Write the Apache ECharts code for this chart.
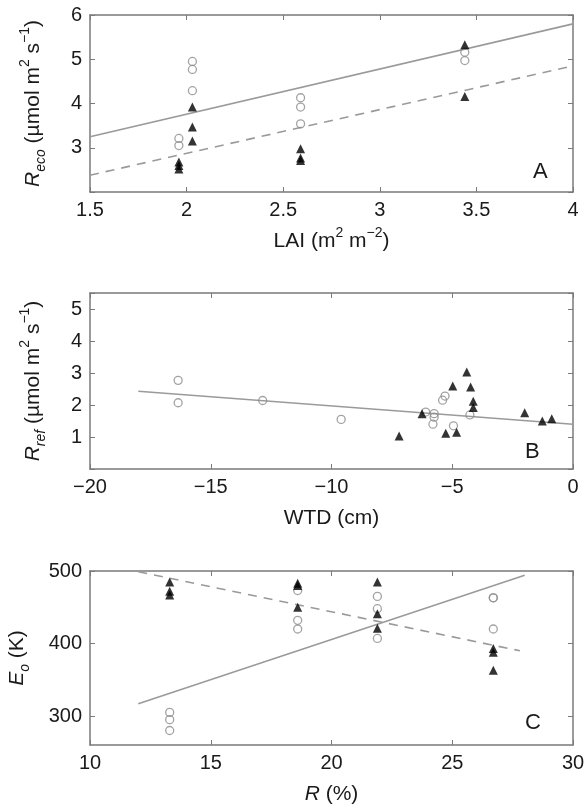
<!DOCTYPE html>
<html>
<head>
<meta charset="utf-8">
<script src="https://cdn.jsdelivr.net/npm/echarts@6/dist/echarts.min.js"></script>
<style>
html, body { margin: 0; background: #fff; }
#main { width: 587px; height: 808px; }
</style>
</head>
<body>
<div id="main"></div>
<script>
// panel A: Reco vs LAI
var laiOpen = [1.96, 1.96, 2.03, 2.03, 2.03, 2.59, 2.59, 2.59, 3.44, 3.44];
var recoOpen = [3.21, 3.05, 4.95, 4.77, 4.29, 4.13, 3.92, 3.54, 5.16, 4.97];
var laiFill = [1.96, 1.96, 1.96, 2.03, 2.03, 2.03, 2.59, 2.59, 2.59, 3.44, 3.44];
var recoFill = [2.68, 2.6, 2.52, 3.92, 3.47, 3.15, 2.98, 2.77, 2.71, 5.33, 4.16];
var fitA_x = [1.5, 4];
var fitA_solid = [3.25, 5.8];
var fitA_dash = [2.38, 4.85];

// panel B: Rref vs WTD
var wtdOpen = [-16.35, -16.35, -12.85, -9.6, -6.1, -5.75, -5.75, -5.8, -5.4, -5.3, -4.95, -4.27];
var rrefOpen = [2.77, 2.07, 2.14, 1.55, 1.78, 1.73, 1.62, 1.4, 2.15, 2.28, 1.35, 1.69];
var wtdFill = [-7.2, -6.25, -5.27, -4.82, -4.98, -4.4, -4.24, -4.13, -4.13, -2.0, -1.27, -0.88];
var rrefFill = [1.03, 1.73, 1.12, 1.15, 2.59, 3.03, 2.56, 2.12, 1.92, 1.76, 1.5, 1.57];
var fitB_x = [-18, 0];
var fitB_y = [2.43, 1.4];

// panel C: Eo vs R
var rOpen = [13.3, 13.3, 13.3, 18.6, 18.6, 18.6, 21.9, 21.9, 21.9, 26.7, 26.7, 26.7];
var eoOpen = [305, 295, 280, 473, 432, 420, 465, 448, 407, 463, 463, 420];
var rFill = [13.3, 13.3, 13.3, 18.6, 18.6, 18.6, 21.9, 21.9, 21.9, 26.7, 26.7, 26.7];
var eoFill = [485, 472, 467, 483, 480, 450, 485, 441, 421, 393, 388, 363];
var fitC_solid_x = [12, 28];
var fitC_solid_y = [317, 494];
var fitC_dash_x = [12, 27.8];
var fitC_dash_y = [499, 390];

var chart = echarts.init(document.getElementById('main'));

function zip(xs, ys) {
  return xs.map(function (x, i) { return [x, ys[i]]; });
}

var FONT = 'Liberation Sans, Arial, Helvetica, sans-serif';
var TXT = '#1a1a1a';
var AX = '#7a7a7a';
var GREY = '#9a9a9a';

var rich = {
  n: { fontSize: 21, fontFamily: FONT, color: TXT, lineHeight: 30 },
  i: { fontSize: 21, fontFamily: FONT, color: TXT, fontStyle: 'italic', lineHeight: 30 },
  sub: { fontSize: 14, fontFamily: FONT, color: TXT, fontStyle: 'italic', verticalAlign: 'bottom', lineHeight: 30 },
  sup: { fontSize: 14, fontFamily: FONT, color: TXT, verticalAlign: 'top', lineHeight: 30 }
};

var grids = [
  { left: 90, top: 15, width: 483, height: 177 },
  { left: 90, top: 293, width: 483, height: 176 },
  { left: 90, top: 571, width: 483, height: 174 }
];

var axLine = { show: true, onZero: false, lineStyle: { color: AX, width: 1.5 } };
var axTick = { inside: true, length: 5, lineStyle: { color: AX } };

function xAxis(gi, min, max, step, name, gap, fmt) {
  return {
    type: 'value', gridIndex: gi, min: min, max: max, interval: step,
    name: name, nameLocation: 'middle', nameGap: gap,
    nameTextStyle: { rich: rich },
    axisLine: axLine, axisTick: axTick,
    axisLabel: { fontSize: 20, fontFamily: FONT, color: TXT, margin: 8, formatter: fmt },
    splitLine: { show: false }
  };
}
function xMirror(gi, min, max, step) {
  return {
    type: 'value', gridIndex: gi, min: min, max: max, interval: step, position: 'top',
    axisLine: axLine, axisTick: axTick,
    axisLabel: { show: false }, splitLine: { show: false }
  };
}
function yAxis(gi, min, max, step, name, gap, labelFmt, custom) {
  var ax = {
    type: 'value', gridIndex: gi, min: min, max: max, interval: step,
    name: name, nameLocation: 'middle', nameGap: gap,
    nameTextStyle: { rich: rich },
    axisLine: axLine,
    axisTick: { inside: true, length: 5, lineStyle: { color: AX } },
    axisLabel: { fontSize: 20, fontFamily: FONT, color: TXT, margin: 8, formatter: labelFmt },
    splitLine: { show: false }
  };
  if (custom) {
    ax.axisTick.customValues = custom;
    ax.axisLabel.customValues = custom;
  }
  return ax;
}
function yMirror(gi, min, max, step, custom) {
  var ax = {
    type: 'value', gridIndex: gi, min: min, max: max, interval: step, position: 'right',
    axisLine: axLine,
    axisTick: { inside: true, length: 5, lineStyle: { color: AX } },
    axisLabel: { show: false }, splitLine: { show: false }
  };
  if (custom) ax.axisTick.customValues = custom;
  return ax;
}

function openPts(xi, yi, data) {
  return {
    type: 'scatter', xAxisIndex: xi, yAxisIndex: yi, data: data,
    symbol: 'circle', symbolSize: 8, z: 4,
    itemStyle: { color: 'rgba(255,255,255,0)', borderColor: '#8c8c8c', borderWidth: 1.3 }
  };
}
function fillPts(xi, yi, data) {
  return {
    type: 'scatter', xAxisIndex: xi, yAxisIndex: yi, data: data,
    symbol: 'triangle', symbolSize: 9, z: 5,
    itemStyle: { color: '#000' }
  };
}
function fit(xi, yi, data, dashed) {
  return {
    type: 'line', xAxisIndex: xi, yAxisIndex: yi, data: data,
    showSymbol: false, silent: true, z: 2,
    lineStyle: { color: GREY, width: 1.6, type: dashed ? [9, 7] : 'solid' }
  };
}

var hideFirst = function (v) { return v === 2 ? '' : v; };
var hideB = function (v) { return (v === 0 || v > 5) ? '' : v; };
var minusFmt = function (v) { return v < 0 ? '\u2212' + Math.abs(v) : v; };

var option = {
  backgroundColor: '#fff',
  animation: false,
  grid: grids.map(function (g) {
    return Object.assign({ containLabel: false, outerBoundsMode: 'none' }, g);
  }),
  xAxis: [
    xAxis(0, 1.5, 4, 0.5, '{n|LAI (m}{sup|2}{n| m}{sup|\u22122}{n|)}', 34),
    xAxis(1, -20, 0, 5, '{n|WTD (cm)}', 34, minusFmt),
    xAxis(2, 10, 30, 5, '{i|R}{n| (%)}', 34),
    xMirror(0, 1.5, 4, 0.5),
    xMirror(1, -20, 0, 5),
    xMirror(2, 10, 30, 5)
  ],
  yAxis: [
    yAxis(0, 2, 6, 1, '{i|R}{sub|eco}{n| (\u00b5mol m}{sup|2}{n| s}{sup|\u22121}{n|)}', 42, hideFirst),
    yAxis(1, 0, 5.5, 1, '{i|R}{sub|ref}{n| (\u00b5mol m}{sup|2}{n| s}{sup|\u22121}{n|)}', 42, hideB),
    yAxis(2, 260, 500, 20, '{i|E}{sub|o}{n| (K)}', 58, null, [300, 400, 500]),
    yMirror(0, 2, 6, 1),
    yMirror(1, 0, 5.5, 1),
    yMirror(2, 260, 500, 20, [300, 400, 500])
  ],
  graphic: [
    { type: 'text', left: 533, top: 161, style: { text: 'A', font: '22px ' + FONT, fill: TXT } },
    { type: 'text', left: 525, top: 441, style: { text: 'B', font: '22px ' + FONT, fill: TXT } },
    { type: 'text', left: 525, top: 712, style: { text: 'C', font: '22px ' + FONT, fill: TXT } }
  ],
  series: [
    fit(0, 0, zip(fitA_x, fitA_solid), false),
    fit(0, 0, zip(fitA_x, fitA_dash), true),
    openPts(0, 0, zip(laiOpen, recoOpen)),
    fillPts(0, 0, zip(laiFill, recoFill)),
    fit(1, 1, zip(fitB_x, fitB_y), false),
    openPts(1, 1, zip(wtdOpen, rrefOpen)),
    fillPts(1, 1, zip(wtdFill, rrefFill)),
    fit(2, 2, zip(fitC_solid_x, fitC_solid_y), false),
    fit(2, 2, zip(fitC_dash_x, fitC_dash_y), true),
    openPts(2, 2, zip(rOpen, eoOpen)),
    fillPts(2, 2, zip(rFill, eoFill))
  ]
};

chart.setOption(option);
</script>
</body>
</html>
